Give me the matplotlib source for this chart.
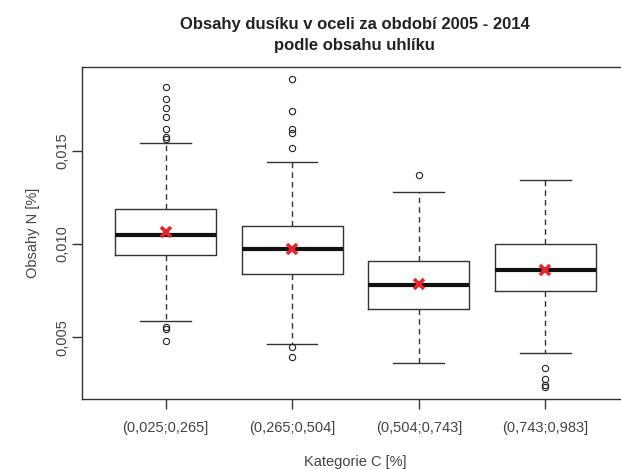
import matplotlib
matplotlib.use("Agg")
import matplotlib.pyplot as plt

plt.rcParams["font.family"] = ["Liberation Sans", "DejaVu Sans"]

# carbon categories and nitrogen content summaries (%)
categories = ["(0,025;0,265]", "(0,265;0,504]", "(0,504;0,743]", "(0,743;0,983]"]
q1 = [0.00939, 0.00841, 0.00653, 0.00746]
medians = [0.01050, 0.00975, 0.00778, 0.00860]
q3 = [0.01186, 0.01098, 0.00910, 0.00998]
whisker_lo = [0.00587, 0.00463, 0.00363, 0.00413]
whisker_hi = [0.01540, 0.01442, 0.01281, 0.01342]
means = [0.01064, 0.00973, 0.00787, 0.00860]
outliers = [
    [0.01843, 0.01780, 0.01732, 0.01683, 0.01616, 0.01573, 0.01565,
     0.00556, 0.00542, 0.00479],
    [0.01886, 0.01716, 0.01617, 0.01594, 0.01515, 0.00446, 0.00395],
    [0.01370],
    [0.00334, 0.00274, 0.00243, 0.00234],
]
y_ticks = [0.005, 0.010, 0.015]

stats = []
for i, name in enumerate(categories):
    stats.append(dict(label=name, q1=q1[i], med=medians[i], q3=q3[i],
                      whislo=whisker_lo[i], whishi=whisker_hi[i],
                      mean=means[i], fliers=outliers[i]))

fig = plt.figure(figsize=(6.21, 4.69), dpi=100)
ax = fig.add_axes([0.132, 0.1493, 0.8808, 0.7078])

line_col = "#333333"
ax.bxp(stats, positions=[1, 2, 3, 4], widths=0.8, capwidths=0.4,
       showmeans=True, patch_artist=False,
       boxprops=dict(color=line_col, lw=1.0),
       medianprops=dict(color="#111111", lw=3.0),
       whiskerprops=dict(color=line_col, lw=1.0, dashes=(4, 3)),
       capprops=dict(color=line_col, lw=1.0),
       flierprops=dict(marker="o", mfc="none", mec="#222222", ms=4.5, mew=0.8),
       meanprops=dict(marker="x", color="#e8262a", mec="#e8262a", ms=7, mew=2.6))

ax.set_xlim(0.34, 4.66)
ax.set_ylim(0.00168, 0.0195)
ax.set_yticks(y_ticks)
ax.set_yticklabels([f"{v:.3f}".replace(".", ",") for v in y_ticks],
                   rotation=90, va="center")
ax.set_xticks([1, 2, 3, 4])
ax.set_xticklabels(categories)

for s in ax.spines.values():
    s.set_color(line_col)
    s.set_linewidth(1.0)
ax.tick_params(axis="both", colors=line_col, length=7, width=1.0,
               labelsize=10.5, labelcolor="#444444")
ax.tick_params(axis="x", pad=9)
ax.tick_params(axis="y", pad=2)

ax.set_xlabel("Kategorie C [%]", fontsize=10.5, color="#444444", labelpad=14)
ax.set_ylabel("Obsahy N [%]", fontsize=10.5, color="#444444", labelpad=11)

fig.text(0.571, 0.925, "Obsahy dusíku v oceli za období 2005 - 2014\npodle obsahu uhlíku",
         ha="center", va="center", fontsize=12, fontweight="bold",
         color="#222222", linespacing=1.55)

fig.savefig("out.png", dpi=100)
